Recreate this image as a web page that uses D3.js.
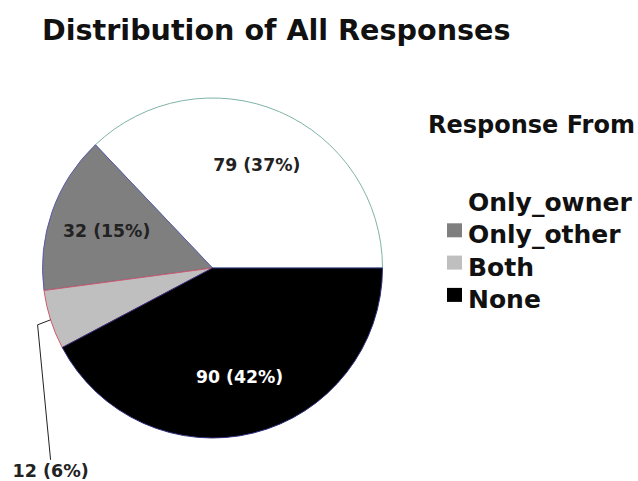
<!DOCTYPE html>
<html>
<head>
  <meta charset="utf-8">
  <title>Distribution of All Responses</title>
  <script src="https://d3js.org/d3.v7.min.js"></script>
  <style>
    html, body {
      margin: 0;
      padding: 0;
      background: #fff;
    }
    svg text {
      font-family: "DejaVu Sans", Verdana, sans-serif;
      font-weight: bold;
    }
  </style>
</head>
<body>
  <svg id="chart" width="638" height="481"></svg>

  <script>
    // data
    const categories = ["Only_owner", "Only_other", "Both", "None"];
    const counts = [79, 32, 12, 90];
    const fills = ["#ffffff", "#7f7f7f", "#bfbfbf", "#000000"];
    const edges = ["#7fb3a8", "#5a5aa8", "#d05a6a", "#303080"];

    const total = d3.sum(counts);
    const rows = categories.map((c, i) => ({ name: c, value: counts[i], fill: fills[i], edge: edges[i] }));

    const svg = d3.select("#chart");

    // title
    svg.append("text")
      .attr("x", 42)
      .attr("y", 40)
      .style("font-size", "28.6px")
      .attr("fill", "#111")
      .text("Distribution of All Responses");

    const cx = 212.5, cy = 268, radius = 170;

    // counter clockwise from 3 o'clock
    const pie = d3.pie()
      .sort(null)
      .value(d => d.value)
      .startAngle(Math.PI / 2)
      .endAngle(Math.PI / 2 - 2 * Math.PI);

    const arcs = pie(rows);
    const arc = d3.arc().innerRadius(0).outerRadius(radius);
    const labelArc = d3.arc().innerRadius(radius * 0.66).outerRadius(radius * 0.66);

    const g = svg.append("g").attr("transform", `translate(${cx},${cy})`);

    g.selectAll("path")
      .data(arcs)
      .join("path")
      .attr("d", arc)
      .attr("fill", d => d.data.fill)
      .attr("stroke", d => d.data.edge)
      .attr("stroke-width", 1);

    const pct = d => d.data.value + " (" + Math.round(d.data.value / total * 100) + "%)";

    // labels inside big slices
    g.selectAll("text.inside")
      .data(arcs.filter(d => d.data.value / total > 0.1))
      .join("text")
      .attr("class", "inside")
      .attr("x", d => labelArc.centroid(d)[0])
      .attr("y", d => labelArc.centroid(d)[1])
      .attr("dy", "0.35em")
      .attr("text-anchor", "middle")
      .style("font-size", "17.3px")
      .attr("fill", d => d.data.fill == "#000000" ? "#fff" : "#222")
      .text(pct);

    // small slice gets a leader line
    arcs.filter(d => d.data.value / total <= 0.1).forEach(d => {
      const mid = (d.startAngle + d.endAngle) / 2;
      const px = Math.sin(mid) * radius, py = -Math.cos(mid) * radius;
      g.append("polyline")
        .attr("points", [[px, py], [px - 13, py + 5], [px, py + 140]].map(p => p.join(",")).join(" "))
        .attr("fill", "none")
        .attr("stroke", "#222")
        .attr("stroke-width", 1);
      g.append("text")
        .attr("x", px)
        .attr("y", py + 157)
        .attr("text-anchor", "middle")
        .style("font-size", "17.5px")
        .attr("fill", "#222")
        .text(pct(d));
    });

    // legend
    svg.append("text")
      .attr("x", 428)
      .attr("y", 133)
      .style("font-size", "24px")
      .attr("fill", "#111")
      .text("Response From");

    const legend = svg.append("g");
    const item = legend.selectAll("g")
      .data(rows)
      .join("g")
      .attr("transform", (d, i) => `translate(447,${211 + i * 32.3})`);

    item.append("rect")
      .attr("x", 0)
      .attr("y", -20)
      .attr("width", 15)
      .attr("height", 14)
      .attr("fill", d => d.fill);

    item.append("text")
      .attr("x", 21)
      .attr("y", 0)
      .style("font-size", "25px")
      .attr("fill", "#111")
      .text(d => d.name);
  </script>
</body>
</html>
